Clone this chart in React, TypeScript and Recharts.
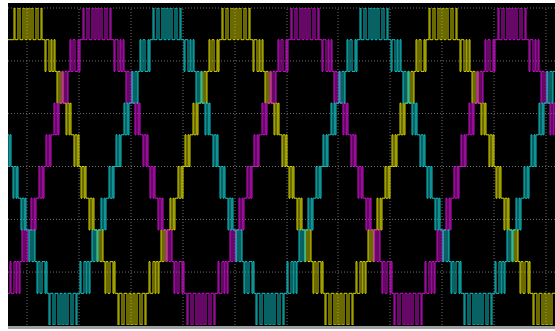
import React from 'react';
import { LineChart, Line, XAxis, YAxis, ReferenceLine } from 'recharts';

// time in record samples, level in cells (+5 .. -5)
const timeTicks = [19, 71, 123, 175, 227, 279, 330, 382, 434, 486, 538];
const levelTicks = [-3.33, -1.67, 0, 1.67, 3.33, 5];

const phaseA: number[][] = [
  [0,4],[6,5],[7,4],[10,5],[12,4],[15,5],[17,4],[19,5],
  [21,4],[23,5],[25,4],[28,5],[30,4],[33,5],[34,4],[37,3],[38,4],[41,3],[43,4],[44,3],[46,4],[47,3],[49,2],[50,3],[52,2],[54,3],[55,2],[58,1],[59,2],[61,1],[62,2],[63,1],[66,0],[67,1],[69,0],[70,1],[71,0],[73,-1],[74,0],[76,-1],[77,0],[78,-1],[81,-2],[82,-1],[84,-2],[85,-1],[86,-2],[89,-3],[90,-2],[92,-3],[94,-2],[95,-3],[97,-4],[98,-3],[100,-4],[102,-3],[105,-4],[106,-3],[107,-4],
  [110,-5],[111,-4],[114,-5],[116,-4],[119,-5],[121,-4],[123,-5],
  [125,-4],[127,-5],[129,-4],[132,-5],[134,-4],[137,-5],[138,-4],[141,-3],[142,-4],[145,-3],[147,-4],[148,-3],[150,-4],[151,-3],[153,-2],[154,-3],[156,-2],[158,-3],[159,-2],[162,-1],[163,-2],[165,-1],[166,-2],[167,-1],[170,0],[171,-1],[173,0],[174,-1],[175,0],[177,1],[178,0],[180,1],[181,0],[182,1],[185,2],[186,1],[188,2],[189,1],[190,2],[193,3],[194,2],[196,3],[198,2],[199,3],[201,4],[202,3],[204,4],[206,3],[209,4],[210,3],[211,4],
  [214,5],[215,4],[218,5],[220,4],[223,5],[225,4],[227,5],
  [229,4],[231,5],[233,4],[236,5],[238,4],[241,5],[242,4],[245,3],[246,4],[249,3],[251,4],[252,3],[254,4],[255,3],[257,2],[258,3],[260,2],[262,3],[263,2],[266,1],[267,2],[269,1],[270,2],[271,1],[274,0],[275,1],[277,0],[278,1],[279,0],[281,-1],[282,0],[284,-1],[285,0],[286,-1],[289,-2],[290,-1],[292,-2],[293,-1],[294,-2],[297,-3],[298,-2],[300,-3],[302,-2],[303,-3],[305,-4],[306,-3],[308,-4],[310,-3],[313,-4],[314,-3],[315,-4],
  [317,-5],[318,-4],[321,-5],[323,-4],[326,-5],[328,-4],[330,-5],
  [332,-4],[334,-5],[336,-4],[339,-5],[341,-4],[344,-5],[345,-4],[348,-3],[349,-4],[352,-3],[354,-4],[355,-3],[357,-4],[358,-3],[360,-2],[361,-3],[363,-2],[365,-3],[366,-2],[369,-1],[370,-2],[372,-1],[373,-2],[374,-1],[377,0],[378,-1],[380,0],[381,-1],[382,0],[384,1],[385,0],[387,1],[388,0],[389,1],[392,2],[393,1],[395,2],[396,1],[397,2],[400,3],[401,2],[403,3],[405,2],[406,3],[408,4],[409,3],[411,4],[413,3],[416,4],[417,3],[418,4],
  [421,5],[422,4],[425,5],[427,4],[430,5],[432,4],[434,5],
  [436,4],[438,5],[440,4],[443,5],[445,4],[448,5],[449,4],[452,3],[453,4],[456,3],[458,4],[459,3],[461,4],[462,3],[464,2],[465,3],[467,2],[469,3],[470,2],[473,1],[474,2],[476,1],[477,2],[478,1],[481,0],[482,1],[484,0],[485,1],[486,0],[488,-1],[489,0],[491,-1],[492,0],[493,-1],[496,-2],[497,-1],[499,-2],[500,-1],[501,-2],[504,-3],[505,-2],[507,-3],[509,-2],[510,-3],[512,-4],[513,-3],[515,-4],[517,-3],[520,-4],[521,-3],[522,-4],
  [525,-5],[526,-4],[529,-5],[531,-4],[534,-5],[536,-4],[538,-5],[540,-4],[542,-5],[544,-4],[547,-4],
];

const phaseB: number[][] = [
  [0,-4],[2,-3],[3,-4],[6,-3],[8,-4],[9,-3],[11,-4],[12,-3],[14,-2],[15,-3],[17,-2],[19,-3],[20,-2],[23,-1],[24,-2],[26,-1],[27,-2],[28,-1],[31,0],[32,-1],[34,0],[35,-1],[36,0],[38,1],[39,0],[41,1],[42,0],[43,1],[46,2],[47,1],[49,2],[50,1],[51,2],[54,3],[55,2],[57,3],[59,2],[60,3],[62,4],[63,3],[65,4],[67,3],[70,4],[71,3],[72,4],
  [75,5],[76,4],[79,5],[81,4],[84,5],[86,4],[88,5],
  [90,4],[92,5],[94,4],[97,5],[99,4],[102,5],[103,4],[106,3],[107,4],[110,3],[112,4],[113,3],[115,4],[116,3],[118,2],[119,3],[121,2],[123,3],[124,2],[127,1],[128,2],[130,1],[131,2],[132,1],[135,0],[136,1],[138,0],[139,1],[140,0],[142,-1],[143,0],[145,-1],[146,0],[147,-1],[150,-2],[151,-1],[153,-2],[154,-1],[155,-2],[158,-3],[159,-2],[161,-3],[163,-2],[164,-3],[166,-4],[167,-3],[169,-4],[171,-3],[174,-4],[175,-3],[176,-4],
  [179,-5],[180,-4],[183,-5],[185,-4],[188,-5],[190,-4],[192,-5],
  [194,-4],[196,-5],[198,-4],[201,-5],[203,-4],[206,-5],[207,-4],[210,-3],[211,-4],[214,-3],[216,-4],[217,-3],[219,-4],[220,-3],[222,-2],[223,-3],[225,-2],[227,-3],[228,-2],[231,-1],[232,-2],[234,-1],[235,-2],[236,-1],[239,0],[240,-1],[242,0],[243,-1],[244,0],[246,1],[247,0],[249,1],[250,0],[251,1],[254,2],[255,1],[257,2],[258,1],[259,2],[262,3],[263,2],[265,3],[267,2],[268,3],[270,4],[271,3],[273,4],[275,3],[278,4],[279,3],[280,4],
  [283,5],[284,4],[287,5],[289,4],[292,5],[294,4],[296,5],
  [298,4],[300,5],[302,4],[305,5],[307,4],[310,5],[311,4],[314,3],[315,4],[318,3],[320,4],[321,3],[323,4],[324,3],[326,2],[327,3],[329,2],[331,3],[332,2],[335,1],[336,2],[338,1],[339,2],[340,1],[343,0],[344,1],[346,0],[347,1],[348,0],[350,-1],[351,0],[353,-1],[354,0],[355,-1],[358,-2],[359,-1],[361,-2],[362,-1],[363,-2],[366,-3],[367,-2],[369,-3],[371,-2],[372,-3],[374,-4],[375,-3],[377,-4],[379,-3],[382,-4],[383,-3],[384,-4],
  [386,-5],[387,-4],[390,-5],[392,-4],[395,-5],[397,-4],[399,-5],
  [401,-4],[403,-5],[405,-4],[408,-5],[410,-4],[413,-5],[414,-4],[417,-3],[418,-4],[421,-3],[423,-4],[424,-3],[426,-4],[427,-3],[429,-2],[430,-3],[432,-2],[434,-3],[435,-2],[438,-1],[439,-2],[441,-1],[442,-2],[443,-1],[446,0],[447,-1],[449,0],[450,-1],[451,0],[453,1],[454,0],[456,1],[457,0],[458,1],[461,2],[462,1],[464,2],[465,1],[466,2],[469,3],[470,2],[472,3],[474,2],[475,3],[477,4],[478,3],[480,4],[482,3],[485,4],[486,3],[487,4],
  [490,5],[491,4],[494,5],[496,4],[499,5],[501,4],[503,5],
  [505,4],[507,5],[509,4],[512,5],[514,4],[517,5],[518,4],[521,3],[522,4],[525,3],[527,4],[528,3],[530,4],[531,3],[533,2],[534,3],[536,2],[538,3],[539,2],[542,1],[543,2],[545,1],[546,2],[547,2],
];

const phaseC: number[][] = [
  [0,1],[1,0],[2,1],[3,0],[5,-1],[6,0],[8,-1],[9,0],[10,-1],[13,-2],[14,-1],[16,-2],[17,-1],[18,-2],[21,-3],[22,-2],[24,-3],[26,-2],[27,-3],[29,-4],[30,-3],[32,-4],[34,-3],[37,-4],[38,-3],[39,-4],
  [41,-5],[42,-4],[45,-5],[47,-4],[50,-5],[52,-4],[54,-5],
  [56,-4],[58,-5],[60,-4],[63,-5],[65,-4],[68,-5],[69,-4],[72,-3],[73,-4],[76,-3],[78,-4],[79,-3],[81,-4],[82,-3],[84,-2],[85,-3],[87,-2],[89,-3],[90,-2],[93,-1],[94,-2],[96,-1],[97,-2],[98,-1],[101,0],[102,-1],[104,0],[105,-1],[106,0],[108,1],[109,0],[111,1],[112,0],[113,1],[116,2],[117,1],[119,2],[120,1],[121,2],[124,3],[125,2],[127,3],[129,2],[130,3],[132,4],[133,3],[135,4],[137,3],[140,4],[141,3],[142,4],
  [145,5],[146,4],[149,5],[151,4],[154,5],[156,4],[158,5],
  [160,4],[162,5],[164,4],[167,5],[169,4],[172,5],[173,4],[176,3],[177,4],[180,3],[182,4],[183,3],[185,4],[186,3],[188,2],[189,3],[191,2],[193,3],[194,2],[197,1],[198,2],[200,1],[201,2],[202,1],[205,0],[206,1],[208,0],[209,1],[210,0],[212,-1],[213,0],[215,-1],[216,0],[217,-1],[220,-2],[221,-1],[223,-2],[224,-1],[225,-2],[228,-3],[229,-2],[231,-3],[233,-2],[234,-3],[236,-4],[237,-3],[239,-4],[241,-3],[244,-4],[245,-3],[246,-4],
  [248,-5],[249,-4],[252,-5],[254,-4],[257,-5],[259,-4],[261,-5],
  [263,-4],[265,-5],[267,-4],[270,-5],[272,-4],[275,-5],[276,-4],[279,-3],[280,-4],[283,-3],[285,-4],[286,-3],[288,-4],[289,-3],[291,-2],[292,-3],[294,-2],[296,-3],[297,-2],[300,-1],[301,-2],[303,-1],[304,-2],[305,-1],[308,0],[309,-1],[311,0],[312,-1],[313,0],[315,1],[316,0],[318,1],[319,0],[320,1],[323,2],[324,1],[326,2],[327,1],[328,2],[331,3],[332,2],[334,3],[336,2],[337,3],[339,4],[340,3],[342,4],[344,3],[347,4],[348,3],[349,4],
  [352,5],[353,4],[356,5],[358,4],[361,5],[363,4],[365,5],
  [367,4],[369,5],[371,4],[374,5],[376,4],[379,5],[380,4],[383,3],[384,4],[387,3],[389,4],[390,3],[392,4],[393,3],[395,2],[396,3],[398,2],[400,3],[401,2],[404,1],[405,2],[407,1],[408,2],[409,1],[412,0],[413,1],[415,0],[416,1],[417,0],[419,-1],[420,0],[422,-1],[423,0],[424,-1],[427,-2],[428,-1],[430,-2],[431,-1],[432,-2],[435,-3],[436,-2],[438,-3],[440,-2],[441,-3],[443,-4],[444,-3],[446,-4],[448,-3],[451,-4],[452,-3],[453,-4],
  [456,-5],[457,-4],[460,-5],[462,-4],[465,-5],[467,-4],[469,-5],
  [471,-4],[473,-5],[475,-4],[478,-5],[480,-4],[483,-5],[484,-4],[487,-3],[488,-4],[491,-3],[493,-4],[494,-3],[496,-4],[497,-3],[499,-2],[500,-3],[502,-2],[504,-3],[505,-2],[508,-1],[509,-2],[511,-1],[512,-2],[513,-1],[516,0],[517,-1],[519,0],[520,-1],[521,0],[523,1],[524,0],[526,1],[527,0],[528,1],[531,2],[532,1],[534,2],[535,1],[536,2],[539,3],[540,2],[542,3],[544,2],[545,3],[547,3],
];

const toPoints = (trace: number[][]) => trace.map(([t, v]) => ({ t, v }));

const yellowData = toPoints(phaseA);
const magentaData = toPoints(phaseB);
const cyanData = toPoints(phaseC);

const gridStyle = { stroke: '#6e6e6e', strokeDasharray: '1 2', strokeWidth: 1 };

export default function App() {
  return (
    <div
      style={{
        position: 'absolute',
        left: 8,
        top: 3,
        width: 547,
        height: 323,
        background: '#000',
        borderBottom: '3px solid #a0a0a0',
      }}
    >
      <LineChart width={547} height={323} margin={{ top: 5, right: 0, bottom: 1, left: 0 }}>
        <XAxis type="number" dataKey="t" domain={[0, 547]} hide allowDataOverflow />
        <YAxis type="number" domain={[-5, 5]} hide allowDataOverflow />
        {timeTicks.map((t) => (
          <ReferenceLine key={`vx${t}`} x={t} {...gridStyle} />
        ))}
        {levelTicks.map((v) => (
          <ReferenceLine key={`hy${v}`} y={v} {...gridStyle} />
        ))}
        <Line data={yellowData} dataKey="v" type="stepAfter" stroke="#d4d400" strokeWidth={1} dot={false} isAnimationActive={false} />
        <Line data={magentaData} dataKey="v" type="stepAfter" stroke="#cc10cc" strokeWidth={1} dot={false} isAnimationActive={false} />
        <Line data={cyanData} dataKey="v" type="stepAfter" stroke="#10c4c8" strokeWidth={1} dot={false} isAnimationActive={false} />
      </LineChart>
    </div>
  );
}
